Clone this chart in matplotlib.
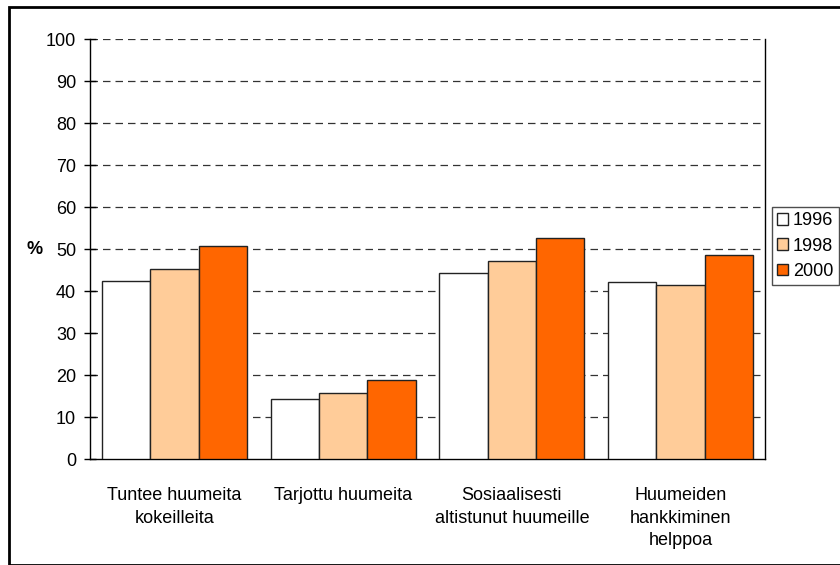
import numpy as np
import matplotlib.pyplot as plt
from matplotlib.patches import Rectangle

plt.rcParams['font.family'] = ['Liberation Sans', 'DejaVu Sans']
plt.rcParams['font.size'] = 13

# data
categories = ['Tuntee huumeita\nkokeilleita', 'Tarjottu huumeita',
              'Sosiaalisesti\naltistunut huumeille', 'Huumeiden\nhankkiminen\nhelppoa']
years = ['1996', '1998', '2000']
v1996 = [42.4, 14.4, 44.3, 42.1]
v1998 = [45.2, 15.6, 47.1, 41.5]
v2000 = [50.6, 18.7, 52.7, 48.5]
colors = ['#FFFFFF', '#FFCC99', '#FF6600']
yticks = list(range(0, 101, 10))

fig = plt.figure(figsize=(8.4, 5.65), dpi=100)
ax = fig.add_axes([90/840, 106/565, 675/840, 420/565])

x = np.arange(len(categories))
w = 0.286
series = [v1996, v1998, v2000]
for i, vals in enumerate(series):
    ax.bar(x + (i - 1) * w, vals, width=w, color=colors[i], edgecolor='#222222',
           linewidth=1, label=years[i], zorder=3)

ax.set_xlim(-0.5, len(categories) - 0.5)
ax.set_ylim(0, 100)
ax.set_yticks(yticks)
ax.set_xticks(x)
ax.set_xticklabels(categories, linespacing=1.45)
ax.tick_params(axis='x', length=0, pad=20)
ax.tick_params(axis='y', direction='inout', length=8, width=1, pad=6)

for t in yticks[1:]:
    ax.axhline(t, color='#333333', lw=0.9, ls=(0, (6, 4)), zorder=1)

ax.spines['top'].set_visible(False)
for s in ['left', 'bottom', 'right']:
    ax.spines[s].set_color('black')
    ax.spines[s].set_linewidth(1)

ax.set_ylabel('%', rotation=0, fontweight='bold', va='center')
ax.yaxis.set_label_coords(-0.082, 0.5)

leg = ax.legend(loc='upper left', bbox_to_anchor=(772/840, (565-207)/565),
                bbox_transform=fig.transFigure, frameon=True, fancybox=False,
                handlelength=0.6, handleheight=0.6, handletextpad=0.25,
                labelspacing=0.45, borderpad=0.3, borderaxespad=0)
leg.get_frame().set_edgecolor('#222222')
leg.get_frame().set_linewidth(1)

# outer border of the chart
fig.patches.append(Rectangle((9/840, 0), 840, (565-7)/565, transform=fig.transFigure,
                             fill=False, edgecolor='black', lw=2))

fig.savefig('out.png', dpi=100)
